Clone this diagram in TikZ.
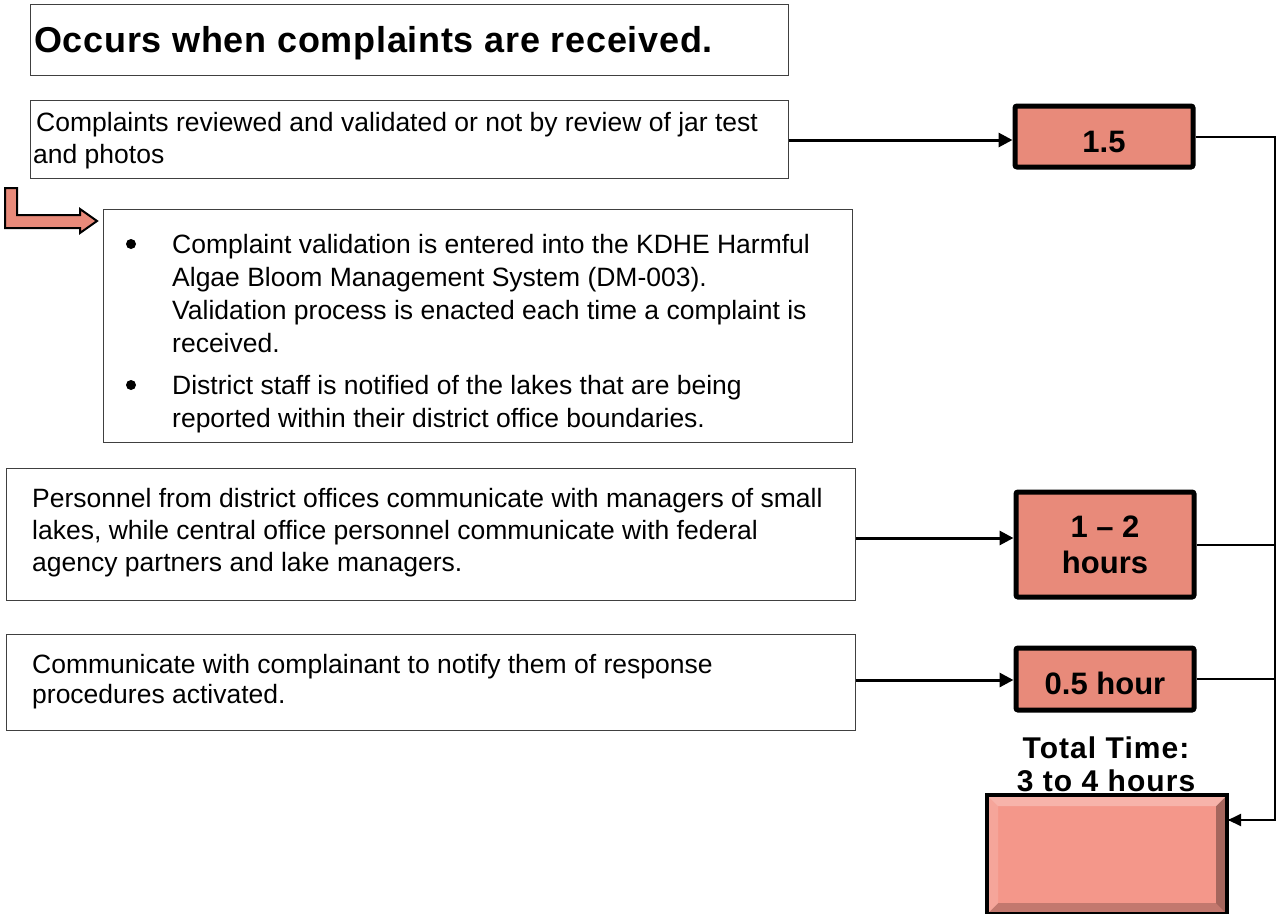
\documentclass[tikz,border=0pt]{standalone}
\usepackage{fontspec}
\setmainfont{Liberation Sans}
\newfontfamily\spacedA[LetterSpace=2]{Liberation Sans}
\newfontfamily\spacedB[LetterSpace=3.5]{Liberation Sans}
\usetikzlibrary{arrows.meta,calc}
\definecolor{salmon}{RGB}{232,138,122}
\definecolor{salmonlt}{RGB}{244,151,138}
\definecolor{boxgray}{RGB}{64,64,64}
\begin{document}
\begin{tikzpicture}[x=1pt,y=-1pt,
  plainbox/.style={draw=boxgray,line width=1.3pt,inner sep=0pt,anchor=north west},
  bodytext/.style={anchor=north west,inner sep=0pt,align=left,font=\fontsize{26.5}{31}\selectfont},
  timebox/.style={draw=black,fill=salmon,line width=5pt,rounded corners=2pt,inner sep=0pt,
     minimum width=178pt,font=\fontsize{31}{36}\selectfont\bfseries,align=center},
  oneline/.style={text height=31pt,text depth=0pt},
  arrowline/.style={line width=3pt,-{Triangle[length=14pt,width=14pt]}},
  railline/.style={line width=2pt}]
\useasboundingbox (0,0) rectangle (1277,913);

% title
\node[plainbox,minimum width=758pt,minimum height=71pt] (title) at (30,4) {};
\node[anchor=north west,inner sep=0pt,font=\fontsize{36}{40}\spacedA\bfseries] (titletext) at (34,26) {Occurs when complaints are received.};

% box 1
\node[plainbox,minimum width=758pt,minimum height=78pt] (box1) at (30,100) {};
\node[bodytext,font=\fontsize{26.5}{32}\selectfont] (box1text) at (33,112) {\hspace*{3pt}Complaints reviewed and validated or not by review of jar test\\and photos};

% block arrow
\draw[fill=salmon,line width=2pt,line join=miter] (5,188) -- (17,188) -- (17,215) -- (80,215) -- (80,209) -- (97,221) -- (80,233) -- (80,228) -- (5,228) -- cycle;

% bullet box
\node[plainbox,minimum width=749pt,minimum height=233pt] (bulletbox) at (103,209) {};
\node[circle,fill=black,inner sep=0pt,minimum size=10pt] (bul1) at (131,244) {};
\node[circle,fill=black,inner sep=0pt,minimum size=10pt] (bul2) at (131,385) {};
\node[bodytext,font=\fontsize{26.5}{33}\selectfont] (bt1) at (172,234) {Complaint validation is entered into the KDHE Harmful\\Algae Bloom Management System (DM-003).\\Validation process is enacted each time a complaint is\\received.};
\node[bodytext,font=\fontsize{26.5}{33}\selectfont] (bt2) at (172,375) {District staff is notified of the lakes that are being\\reported within their district office boundaries.};

% box 3
\node[plainbox,minimum width=849pt,minimum height=132pt] (box3) at (6,468) {};
\node[bodytext,font=\fontsize{26.5}{32}\selectfont] (box3text) at (32,488) {Personnel from district offices communicate with managers of small\\lakes, while central office personnel communicate with federal\\agency partners and lake managers.};

% box 4
\node[plainbox,minimum width=849pt,minimum height=96pt] (box4) at (6,634) {};
\node[bodytext,font=\fontsize{26.5}{30}\selectfont] (box4text) at (32,654) {Communicate with complainant to notify them of response\\procedures activated.};

% time boxes
\node[timebox,oneline,minimum height=61pt] (b15) at (1104,136.5) {1.5};
\node[timebox,minimum height=105pt] (b12) at (1105,544.5) {1 -- 2\\hours};
\node[timebox,oneline,minimum height=62pt] (b05) at (1105,679) {0.5 hour};

% total time label
\node[anchor=north,inner sep=0pt,align=center,font=\fontsize{30}{33}\spacedB\bfseries] (totallabel) at (1106,737) {Total Time:\\3 to 4 hours};

% final box with bevel
\node[draw=none,fill=salmonlt,minimum width=240pt,minimum height=119pt,inner sep=0pt,anchor=north west,
  path picture={
    \fill[white,opacity=0.28] (path picture bounding box.north west) -- (path picture bounding box.north east) -- ++(-11,11) -- ($(path picture bounding box.north west)+(11,11)$) -- cycle;
    \fill[white,opacity=0.14] (path picture bounding box.north west) -- ($(path picture bounding box.north west)+(11,11)$) -- ($(path picture bounding box.south west)+(11,-11)$) -- (path picture bounding box.south west) -- cycle;
    \fill[black,opacity=0.32] (path picture bounding box.north east) -- (path picture bounding box.south east) -- ++(-11,-11) -- ($(path picture bounding box.north east)+(-11,11)$) -- cycle;
    \fill[black,opacity=0.2] (path picture bounding box.south west) -- (path picture bounding box.south east) -- ++(-11,-11) -- ($(path picture bounding box.south west)+(11,-11)$) -- cycle;
  }] (final) at (987,795) {};
\draw[line width=4pt] (final.north west) rectangle (final.south east);

% connectors
\draw[arrowline] (box1.east |- 0,140) coordinate (a1s) -- (a1s -| b15.west);
\draw[arrowline] (box3.east |- 0,538) coordinate (a2s) -- (a2s -| b12.west);
\draw[arrowline] (box4.east |- 0,680) coordinate (a3s) -- (a3s -| b05.west);

\coordinate (railtop) at (1275,136.5);
\coordinate (finin) at (1228,820);
\draw[railline] (b15.east) -- (railtop) |- (finin);
\draw[railline] (b12.east) -- (b12.east -| railtop);
\draw[railline] (b05.east) -- (b05.east -| railtop);
\draw[line width=2pt,-{Triangle[length=13pt,width=12pt]}] (1262,820) -- (finin);
\end{tikzpicture}
\end{document}
